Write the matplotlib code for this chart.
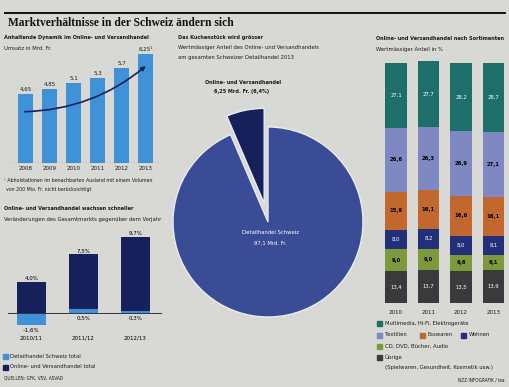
import matplotlib
matplotlib.use("Agg")
import matplotlib.pyplot as plt
import numpy as np

W, H = 510, 387

# --- data ---
years = ["2008", "2009", "2010", "2011", "2012", "2013"]
umsatz = [4.65, 4.85, 5.1, 5.3, 5.7, 6.25]

periods = ["2010/11", "2011/12", "2012/13"]
detail_change = [-1.6, 0.5, 0.3]
online_change = [4.0, 7.5, 9.7]

pie_online = 6.25
pie_total = 97.1

sort_years = ["2010", "2011", "2012", "2013"]
sort_names = ["Übrige", "CD, DVD, Bücher, Audio", "Wohnen", "Esswaren",
              "Textilien", "Multimedia, Hi-Fi, Elektrogeräte"]
uebrige = [13.4, 13.7, 13.5, 13.9]
cd_dvd = [9.0, 9.0, 6.6, 6.1]
wohnen = [8.0, 8.2, 8.0, 8.1]
esswaren = [15.9, 16.1, 16.6, 16.1]
textilien = [26.6, 26.3, 26.9, 27.1]
multimedia = [27.1, 27.7, 28.2, 28.7]

BG = "#d8d8d5"
LIGHT = "#3f92d8"
NAVY = "#16215c"
PIE_BIG = "#3b4c96"
sort_colors = ["#3a3a3c", "#7c9a3c", "#22307c", "#c2682f", "#7e88c2", "#1e6f6a"]
sort_txt = ["white", "black", "white", "black", "black", "white"]

SANS = "DejaVu Sans"
STRETCH = "condensed"
FS = 4.2    # normal small text
FB = 4.0    # bold headings

fig = plt.figure(figsize=(W / 100, H / 100), dpi=100, facecolor=BG)


def axpx(x0, y0, x1, y1):
    ax = fig.add_axes([x0 / W, 1 - y1 / H, (x1 - x0) / W, (y1 - y0) / H])
    ax.set_facecolor("none")
    for s in ax.spines.values():
        s.set_visible(False)
    ax.set_xticks([])
    ax.set_yticks([])
    return ax


def txt(x, y, s, size=FS, weight="normal", color="#1a1a1a", ha="left", **kw):
    fig.text(x / W, 1 - y / H, s, fontsize=size, fontweight=weight, color=color,
             ha=ha, va="center", family=SANS, fontstretch=STRETCH, **kw)


def de(v, fmt="%g"):
    return (fmt % v).replace(".", ",")


# title + rule
fig.add_artist(plt.Line2D([5 / W, 505 / W], [1 - 13 / H, 1 - 13 / H], color="#111", lw=1.4))
fig.text(8 / W, 1 - 23 / H, "Marktverhältnisse in der Schweiz ändern sich", fontsize=8.3,
         fontweight="bold", family="Liberation Serif", va="center", color="#111")

# --- top left: Umsatz bars ---
txt(4, 38, "Anhaltende Dynamik im Online- und Versandhandel", size=FB, weight="bold")
txt(4, 48, "Umsatz in Mrd. Fr.")
ax1 = axpx(10, 50, 160, 163)
x = np.arange(len(years))
ax1.bar(x, umsatz, width=0.62, color=LIGHT, bottom=0)
ax1.set_xlim(-0.646, 5.604)
ax1.set_ylim(1.9, 6.42)
ax1.axhline(1.9, color="#333", lw=0.8)
for i, v in enumerate(umsatz):
    lab = de(v) + ("¹" if i == len(umsatz) - 1 else "")
    ax1.text(i, v + 0.08, lab, ha="center", va="bottom", fontsize=4.4,
             family=SANS, fontstretch=STRETCH, color="#1a1a1a")
# growth arrow (concave upwards)
ax1.annotate("", xy=(5.1, 5.85), xytext=(-0.15, 3.95),
             arrowprops=dict(arrowstyle="-|>", color=NAVY, lw=1.2,
                             connectionstyle="arc3,rad=0.18", mutation_scale=6))
for i, y in enumerate(years):
    ax1.text(i, 1.9 - 0.12, y, ha="center", va="top", fontsize=4.4,
             family=SANS, fontstretch=STRETCH, color="#1a1a1a")
txt(4, 181, "¹ Abholstationen im benachbarten Ausland mit einem Volumen", size=3.8)
txt(6, 189, "von 200 Mio. Fr. nicht berücksichtigt", size=3.8)

# --- bottom left: change bars ---
txt(4, 208, "Online- und Versandhandel wachsen schneller", size=FB, weight="bold")
txt(4, 220, "Veränderungen des Gesamtmarkts gegenüber dem Vorjahr")
ax2 = axpx(0, 225, 165, 335)
x = np.arange(len(periods))
ax2.bar(x, online_change, width=0.56, color=NAVY)
ax2.bar(x, detail_change, width=0.56, color=LIGHT)
ax2.set_xlim(-0.6, 2.57)
ax2.set_ylim(-2.82, 11.28)
ax2.plot([-0.45, 2.5], [0, 0], color="#333", lw=0.7)
for i in range(len(periods)):
    ax2.text(i, online_change[i] + 0.15, de(online_change[i], "%.1f") + "%", ha="center",
             va="bottom", fontsize=4.4, family=SANS, fontstretch=STRETCH)
    d = detail_change[i]
    yy = d - 0.3 if d < 0 else -0.4
    lab = de(d, "%.1f").replace("-", "–") + "%"
    ax2.text(i, yy, lab, ha="center", va="top", fontsize=4.4, family=SANS, fontstretch=STRETCH)
    ax2.text(i, -2.9, periods[i], ha="center", va="top", fontsize=4.4,
             family=SANS, fontstretch=STRETCH, clip_on=False)
fig.patches.append(plt.Rectangle((3 / W, 1 - 359 / H), 5 / W, 5 / H, color=LIGHT,
                                 transform=fig.transFigure, figure=fig))
txt(10, 356, "Detailhandel Schweiz total")
fig.patches.append(plt.Rectangle((3 / W, 1 - 370 / H), 5 / W, 5 / H, color=NAVY,
                                 transform=fig.transFigure, figure=fig))
txt(10, 367, "Online- und Versandhandel total")
txt(4, 378, "QUELLEN: GFK, VSV, ASVAD", size=3.4)

# --- middle: pie ---
txt(178, 37, "Das Kuchenstück wird grösser", size=FB, weight="bold")
txt(178, 48, "Wertmässiger Anteil des Online- und Versandhandels")
txt(178, 58, "am gesamten Schweizer Detailhandel 2013")
share = pie_online / pie_total * 100
txt(243, 82, "Online- und Versandhandel", ha="center", size=FB, weight="bold")
txt(242, 92, "%s Mrd. Fr. (%s%%)" % (de(pie_online), de(share, "%.1f")), ha="center",
    size=FB, weight="bold")
ax3 = axpx(268 - 95, 222 - 95, 268 + 95, 222 + 95)
ax3.pie([pie_online, pie_total - pie_online], explode=[0.2, 0], startangle=90,
        counterclock=True, colors=[NAVY, PIE_BIG],
        wedgeprops=dict(edgecolor="#e8ecf4", linewidth=1.0))
ax3.set_xlim(-1, 1)
ax3.set_ylim(-1, 1)
ax3.set_aspect("equal")
for a in ax3.patches:
    a.set_clip_on(False)
txt(270, 233, "Detailhandel Schweiz", ha="center", color="white")
txt(270, 243, "%s Mrd. Fr." % de(pie_total), ha="center", color="white")

# --- right: stacked bars ---
txt(376, 38, "Online- und Versandhandel nach Sortimenten", size=FB, weight="bold")
txt(376, 49, "Wertmässiger Anteil in %")
ax4 = axpx(375, 55, 510, 303)
x = np.arange(len(sort_years))
series = [uebrige, cd_dvd, wohnen, esswaren, textilien, multimedia]
bottom = np.zeros(len(sort_years))
for vals, c, tc in zip(series, sort_colors, sort_txt):
    ax4.bar(x, vals, bottom=bottom, width=0.66, color=c)
    for i, v in enumerate(vals):
        ax4.text(i, bottom[i] + v / 2, de(v, "%.1f"), ha="center", va="center",
                 fontsize=4.2, color=tc, family=SANS, fontstretch=STRETCH,
                 fontweight="bold" if tc == "black" else "normal")
    bottom += np.array(vals)
ax4.set_xlim(-0.646, 3.51)
ax4.set_ylim(0, 103.3)
for i, y in enumerate(sort_years):
    txt(396 + i * 32.5, 312, y, ha="center", size=4.4)

leg = [(377, 323, 5, "Multimedia, Hi-Fi, Elektrogeräte"),
       (377, 335, 4, "Textilien"), (420, 335, 3, "Esswaren"), (461, 335, 2, "Wohnen"),
       (377, 346, 1, "CD, DVD, Bücher, Audio"), (377, 357, 0, "Übrige")]
for lx, ly, k, name in leg:
    fig.patches.append(plt.Rectangle((lx / W, 1 - (ly + 2.5) / H), 5 / W, 5 / H,
                                     color=sort_colors[k], transform=fig.transFigure, figure=fig))
    txt(lx + 8, ly, name)
txt(385, 368, "(Spielwaren, Gesundheit, Kosmetik usw.)")
txt(505, 380, "NZZ-INFOGRAFIK / lea", ha="right", size=3.4)

fig.savefig("out.png", dpi=100, facecolor=BG)
